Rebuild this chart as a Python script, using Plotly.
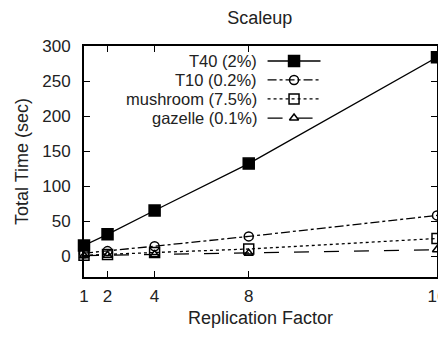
import plotly.graph_objects as go

replication = [1, 2, 4, 8, 16]
series_names = ["T40 (2%)", "T10 (0.2%)", "mushroom (7.5%)", "gazelle (0.1%)"]
t40 = [15, 31, 65, 132, 284]
t10 = [4, 7, 14, 28, 58]
mushroom = [1, 2, 5, 10, 25]
gazelle = [0.5, 1, 2, 4, 9]
x_ticks = [1, 2, 4, 8, 16]
y_ticks = [0, 50, 100, 150, 200, 250, 300]

values = [t40, t10, mushroom, gazelle]
symbols = ["square", "circle-open", "square-open", "triangle-up-open"]
dashes = ["solid", "dashdot", "dot", "longdash"]
msizes = [11, 9, 10, 8]

FONT = "Liberation Sans, Arial, sans-serif"
TXT = "#222"
fig = go.Figure()
for name, v, s, d, ms in zip(series_names, values, symbols, dashes, msizes):
    fig.add_trace(go.Scatter(
        x=replication, y=v, mode="lines+markers", name=name,
        line=dict(color="black", width=1.3, dash=d),
        marker=dict(symbol=s, size=ms, color="black", line=dict(color="black", width=1.5)),
        showlegend=False, cliponaxis=False))

# custom legend (gnuplot style: text on the left, sample on the right)
row_y = [0.935, 0.853, 0.771, 0.688]
for i, (name, s, d, ms) in enumerate(zip(series_names, symbols, dashes, msizes)):
    fig.add_trace(go.Scatter(
        x=[0.52, 0.67], y=[row_y[i], row_y[i]], xaxis="x2", yaxis="y2",
        mode="lines", line=dict(color="black", width=1.3, dash=d),
        showlegend=False, hoverinfo="skip"))
    fig.add_trace(go.Scatter(
        x=[0.595], y=[row_y[i]], xaxis="x2", yaxis="y2", mode="markers",
        marker=dict(symbol=s, size=ms, color="black", line=dict(color="black", width=1.5)),
        showlegend=False, hoverinfo="skip"))
    fig.add_annotation(x=0.495, y=row_y[i], xref="x2", yref="y2", text=name,
                       showarrow=False, xanchor="right", yanchor="middle",
                       font=dict(family=FONT, size=16.5, color=TXT))

# the page body adds an 8px offset, so the figure is 438x331 with shifted margins
fig.update_layout(
    width=438, height=331,
    margin=dict(l=76, r=9, t=38, b=62),
    paper_bgcolor="white", plot_bgcolor="white",
    title=dict(text="Scaleup", x=0.575, xanchor="center", y=0.97, yanchor="middle",
               font=dict(family=FONT, size=18, color=TXT)),
    font=dict(family=FONT, size=17, color=TXT),
    xaxis=dict(range=[1, 16], tickvals=x_ticks, ticktext=[str(t) for t in x_ticks],
               ticks="inside", ticklen=6, tickcolor="black", mirror="ticks",
               showline=True, linecolor="black", linewidth=2, showgrid=False, zeroline=False,
               automargin=False, ticklabelstandoff=3, ticklabeloverflow="allow",
               title=dict(text="Replication Factor", font=dict(size=18), standoff=6),
               tickfont=dict(size=17)),
    yaxis=dict(range=[-30, 300], tickvals=y_ticks,
               ticks="inside", ticklen=6, tickcolor="black", mirror="ticks",
               showline=True, linecolor="black", linewidth=2, showgrid=False, zeroline=False,
               automargin=False, ticklabelstandoff=8,
               title=dict(text="Total Time (sec)", font=dict(size=18), standoff=9),
               tickfont=dict(size=17)),
    xaxis2=dict(range=[0, 1], overlaying="x", visible=False),
    yaxis2=dict(range=[0, 1], overlaying="y", visible=False),
)
fig.write_html("out.html")
